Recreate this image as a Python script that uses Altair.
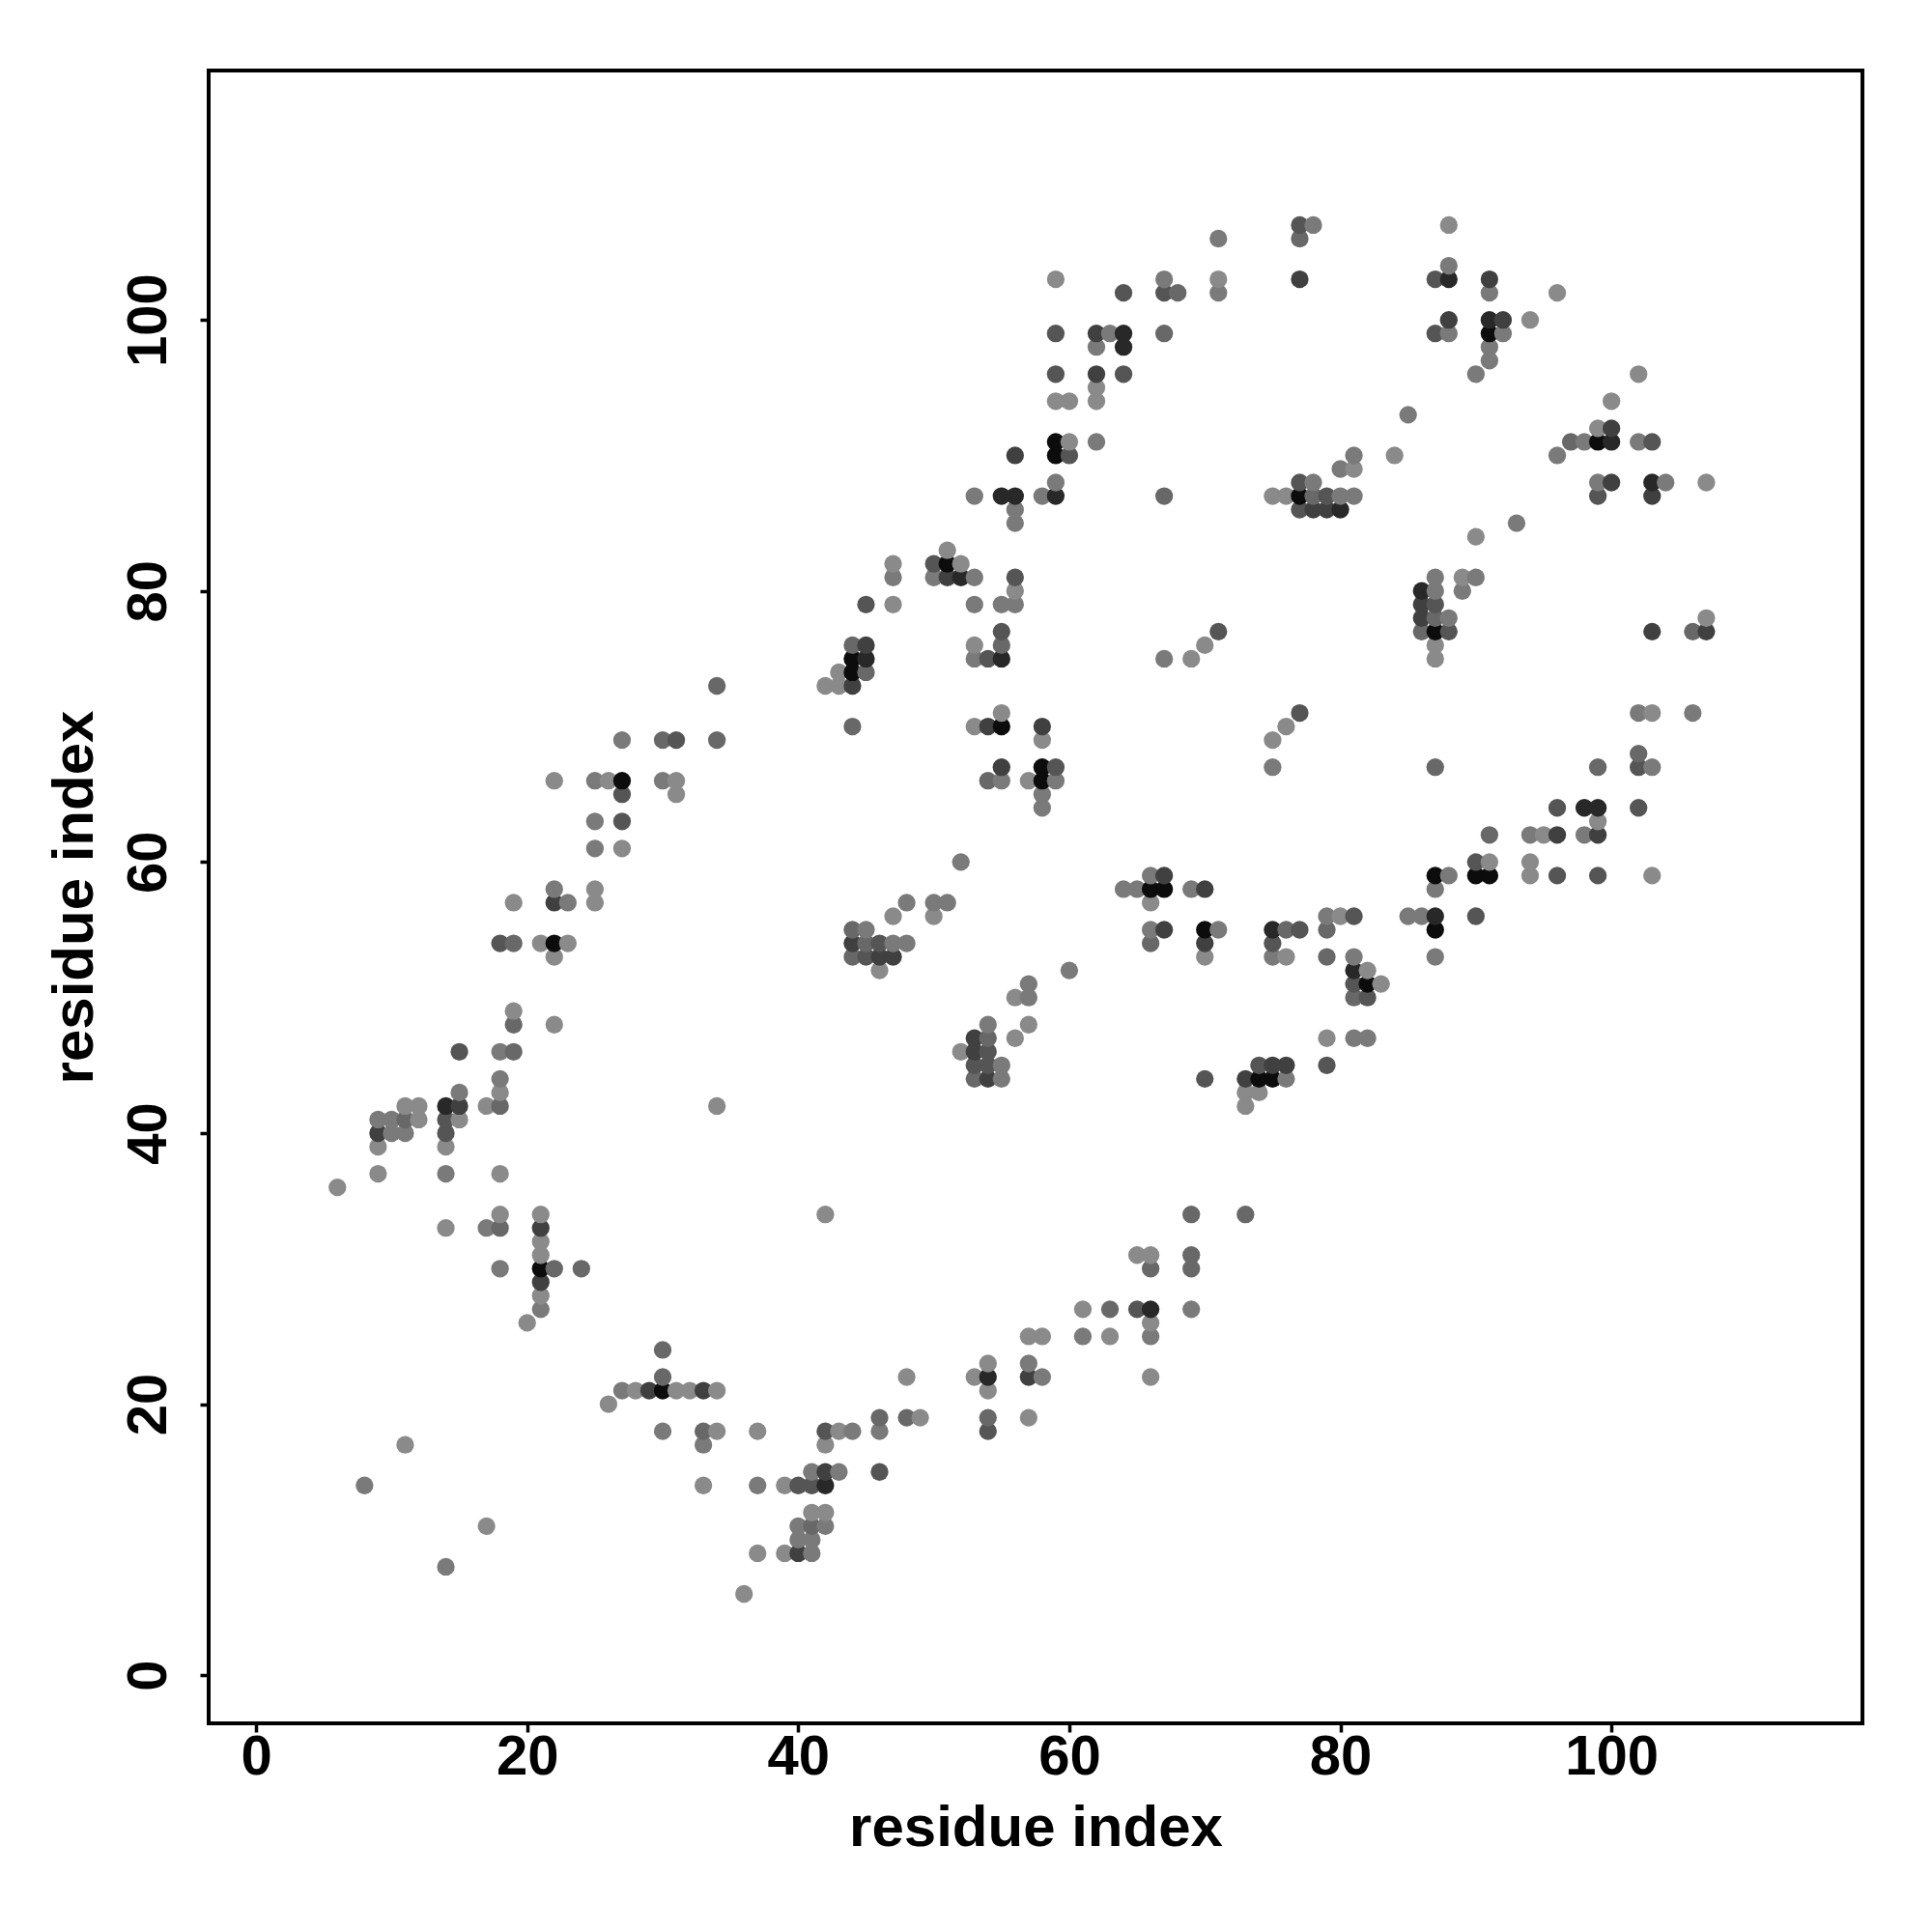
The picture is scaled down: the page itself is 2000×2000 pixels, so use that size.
import altair as alt
import pandas as pd

AXIS_TITLE = "residue index"
TICKS = [0, 20, 40, 60, 80, 100]
GRAY = {1: "#8a8a8a", 2: "#7a7a7a", 3: "#686868", 4: "#555555", 5: "#404040", 6: "#282828", 7: "#0c0c0c"}

level1 = [(6,36),(36,6),(11,17),(17,11),(17,42),(18,43),(19,49),(22,48),(11,42),(12,42),(12,41),(15,41),
(34,42),(9,39),(14,39),(9,37),(18,37),(18,34),(21,34),(14,33),(21,32),(21,31),(21,28),(20,26),(28,21),
(31,21),(32,21),(34,21),(26,20),(34,18),(37,18),(33,14),(37,9),(39,9),(41,12),(42,12),(39,14),(42,17),
(43,18),(49,19),(57,19),(54,21),(48,22),(53,22),(66,22),(54,23),(57,25),(58,25),(63,25),(66,26),(61,27),
(65,31),(66,31),(42,34),(73,43),(74,43),(73,42),(56,47),(57,48),(52,46),(56,50),(46,52),(43,74),(42,73),
(43,73),(53,76),(70,76),(69,75),(55,71),(53,70),(58,69),(57,66),(76,70),(75,69),(66,57),(80,56),(70,53),
(76,53),(82,52),(83,51),(50,56),(47,56),(79,47),(59,103),(71,103),(62,95),(59,94),(60,94),(62,94),(60,91),
(75,87),(76,87),(81,89),(51,83),(47,82),(52,82),(56,80),(47,79),(88,107),(96,102),(94,100),(102,96),
(100,94),(99,92),(84,90),(90,84),(107,88),(89,81),(87,76),(87,75),(107,78),(103,71),(99,63),(95,62),
(91,60),(94,60),(94,59),(103,59),(22,66),(26,66),(31,66),(31,65),(27,61),(25,58),(19,57),(25,57),(21,54),
(23,54),(22,53)]
level2 = [(8,14),(14,8),(9,41),(10,41),(10,40),(11,40),(18,46),(18,44),(15,43),(14,37),(17,33),(18,30),
(21,27),(27,21),(30,18),(33,17),(37,14),(41,9),(40,10),(41,10),(40,11),(42,11),(41,15),(43,15),(44,18),
(46,18),(58,22),(57,23),(61,25),(66,25),(69,27),(76,44),(55,44),(55,45),(54,48),(57,50),(60,52),(53,75),
(67,75),(58,65),(58,64),(75,67),(59,66),(55,66),(52,60),(64,58),(65,58),(69,58),(66,59),(66,55),(45,55),
(71,55),(79,56),(47,54),(48,54),(75,53),(81,53),(57,51),(81,47),(82,47),(67,103),(71,102),(63,99),(62,98),
(62,91),(59,88),(78,88),(53,87),(58,87),(80,87),(81,87),(56,86),(56,85),(81,90),(80,89),(47,81),(50,81),
(53,81),(53,79),(55,79),(56,79),(78,107),(71,106),(88,104),(91,102),(92,99),(88,99),(91,98),(91,97),(90,96),
(98,91),(102,91),(96,90),(85,93),(99,88),(104,88),(93,85),(87,81),(90,81),(87,80),(89,80),(88,78),(102,71),
(106,71),(94,62),(98,62),(85,56),(86,56),(88,59),(87,58),(87,53),(103,67),(27,69),(25,66),(30,66),(25,63),
(25,61),(22,58),(23,57),(48,57),(50,57),(51,57)]
level3 = [(19,48),(19,46),(18,42),(11,41),(18,33),(22,30),(24,30),(30,24),(30,22),(33,18),(46,19),(48,19),
(41,11),(54,19),(63,27),(66,30),(69,30),(69,31),(69,34),(73,34),(44,76),(55,76),(44,70),(54,66),(44,55),
(45,54),(76,55),(79,55),(79,53),(44,53),(66,54),(81,50),(54,47),(53,44),(68,102),(67,99),(77,106),(67,87),
(78,87),(87,78),(106,77),(87,67),(99,67),(102,68),(97,91),(91,62),(34,73),(34,69),(30,69),(86,77),(45,74),
(19,54)]
level4 = [(14,41),(14,40),(15,46),(46,15),(40,14),(41,14),(42,18),(54,18),(65,27),(70,44),(74,45),(79,45),
(53,45),(54,45),(54,46),(46,54),(75,54),(77,55),(81,56),(81,51),(82,50),(55,77),(54,75),(59,67),(64,102),
(67,102),(59,99),(59,96),(64,96),(60,90),(77,88),(79,87),(45,79),(56,81),(77,107),(87,103),(87,99),(87,79),
(88,77),(99,87),(90,60),(96,59),(99,59),(90,56),(102,67),(102,64),(103,91),(27,65),(27,63),(18,54),(71,77),
(77,71),(50,82),(45,53),(96,64),(77,86),(31,69)]
level5 = [(15,42),(9,40),(21,33),(21,29),(29,21),(33,21),(42,15),(40,9),(57,22),(73,44),(76,45),(53,47),
(53,46),(54,44),(44,73),(45,76),(54,70),(58,70),(55,67),(67,59),(70,58),(67,55),(44,54),(46,53),(47,53),
(70,54),(77,103),(62,99),(62,96),(56,90),(78,86),(79,86),(51,81),(91,103),(88,100),(92,100),(100,92),
(86,79),(86,78),(103,77),(107,77),(100,88),(103,87),(96,62),(99,62),(22,57),(75,45)]
level6 = [(14,42),(42,14),(54,22),(66,27),(75,55),(87,56),(81,52),(98,64),(99,64),(45,75),(55,75),(88,103),
(64,99),(64,98),(55,87),(56,87),(59,87),(80,86),(52,81),(91,100),(100,91),(103,88),(86,80)]
level7 = [(21,30),(30,21),(74,44),(75,44),(44,75),(44,74),(55,70),(58,67),(58,66),(66,58),(67,58),(70,55),
(82,51),(87,59),(90,59),(91,59),(87,55),(59,91),(59,90),(77,87),(51,82),(91,99),(99,91),(87,77),(27,66),(22,54)]

rows = []
for lvl, pts in enumerate([level1, level2, level3, level4, level5, level6, level7], start=1):
    for x, y in pts:
        rows.append({"x": x, "y": y, "c": GRAY[lvl]})
df = pd.DataFrame(rows).sort_values(["x", "y"]).reset_index(drop=True)

FONT = "Liberation Sans"
LABEL_FS = 58
TITLE_FS = 60

x_axis = alt.Axis(values=TICKS, title=AXIS_TITLE, grid=False, domain=False, tickSize=9, tickWidth=3.5,
                  tickColor="black", labelFont=FONT, labelFontSize=LABEL_FS, labelFontWeight="bold", labelColor="black",
                  labelPadding=-3, labelOverlap=False, labelFlush=False, titleFont=FONT, titleFontSize=TITLE_FS,
                  titleFontWeight="bold", titleColor="black", titlePadding=15)
y_axis = alt.Axis(values=TICKS, title=AXIS_TITLE, grid=False, domain=False, tickSize=9, tickWidth=3.5,
                  tickColor="black", labelFont=FONT, labelFontSize=LABEL_FS, labelFontWeight="bold", labelColor="black",
                  labelAngle=270, labelAlign="center", labelBaseline="bottom", labelPadding=24,
                  labelOverlap=False, labelFlush=False, titleFont=FONT, titleFontSize=TITLE_FS,
                  titleFontWeight="bold", titleColor="black", titlePadding=17)

chart = (
    alt.Chart(df)
    .mark_circle(size=335, opacity=1)
    .encode(
        x=alt.X("x:Q", scale=alt.Scale(domain=[-3.5, 118.52], nice=False, zero=False), axis=x_axis),
        y=alt.Y("y:Q", scale=alt.Scale(domain=[-3.55, 118.4], nice=False, zero=False), axis=y_axis),
        color=alt.Color("c:N", scale=None, legend=None),
        order=alt.Order("idx:Q"),
    )
    .transform_window(idx="row_number()")
    .properties(
        width=1712, height=1711,
        padding={"left": 208, "top": 65, "right": 64, "bottom": 200},
        autosize=alt.AutoSizeParams(type="none"),
        background="white",
    )
    .configure_view(stroke="black", strokeWidth=4)
)
chart.save("out.html", embed_options={"renderer": "svg", "actions": False})
